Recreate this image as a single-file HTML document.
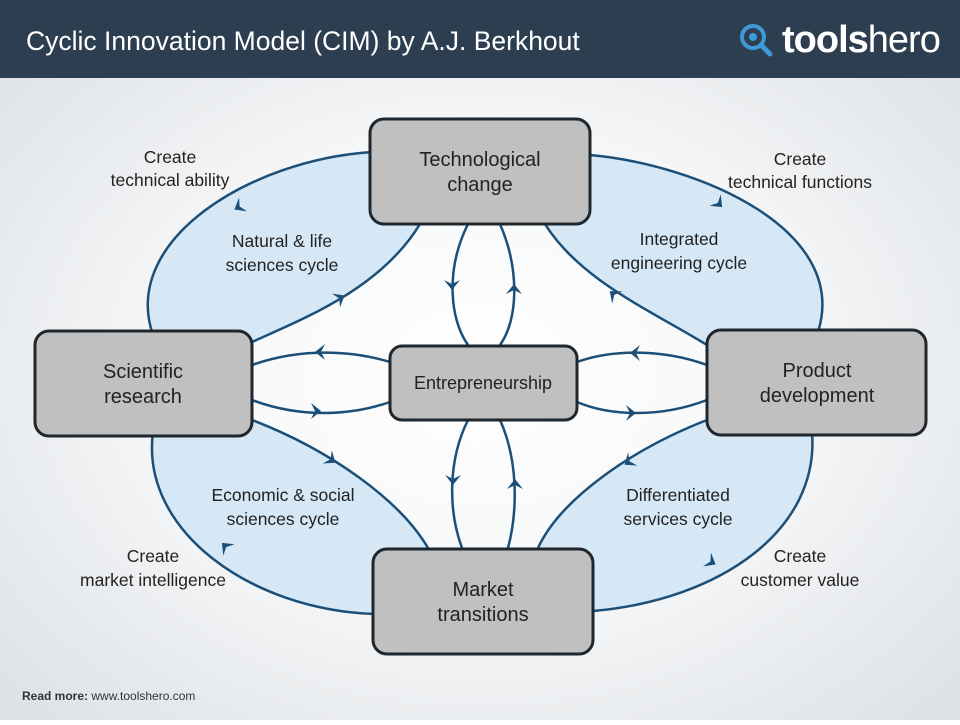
<!DOCTYPE html>
<html><head><meta charset="utf-8"><style>
body{margin:0;width:960px;height:720px;overflow:hidden;font-family:"Liberation Sans",sans-serif}
</style></head><body>
<svg width="960" height="720" viewBox="0 0 960 720" xmlns="http://www.w3.org/2000/svg" font-family="Liberation Sans, sans-serif">
<defs>
<radialGradient id="bg" cx="50%" cy="52%" r="65%">
<stop offset="0" stop-color="#ffffff"/><stop offset="0.5" stop-color="#f6f7f8"/><stop offset="1" stop-color="#dfe3e7"/>
</radialGradient>
</defs>
<rect width="960" height="720" fill="url(#bg)"/>
<rect width="960" height="78" fill="#2c3e50"/>
<text x="26" y="50" fill="#fff" font-size="26.5">Cyclic Innovation Model (CIM) by A.J. Berkhout</text>
<circle cx="753" cy="37" r="11" fill="none" stroke="#3d9ad6" stroke-width="4"/>
<circle cx="753" cy="37" r="4" fill="#3d9ad6"/>
<line x1="761" y1="45" x2="770" y2="54" stroke="#3d9ad6" stroke-width="5" stroke-linecap="round"/>
<text x="782" y="52" fill="#fff" font-size="38" font-weight="bold" letter-spacing="-1">tools<tspan font-weight="normal">hero</tspan></text>

<g fill="#d6e8f6" stroke="none">
<path d="M372,152 C250,160 120,240 153,335 L252,342 C300,320 380,290 420,224 Z"/>
<path d="M590,155 C700,165 850,230 818,332 L707,345 C650,310 580,280 545,224 Z"/>
<path d="M153,432 C140,530 250,610 375,614 L428,548 C400,500 330,450 252,420 Z"/>
<path d="M812,432 C820,530 720,600 593,611 L538,548 C560,500 630,450 707,420 Z"/>
</g>
<g fill="none" stroke="#1b4f78" stroke-width="2.5">
<path d="M372,152 C250,160 120,240 153,335"/>
<path d="M420,224 C380,290 300,320 252,342"/>
<path d="M590,155 C700,165 850,230 818,332"/>
<path d="M545,224 C580,280 650,310 707,345"/>
<path d="M153,432 C140,530 250,610 375,614"/>
<path d="M252,420 C330,450 400,500 428,548"/>
<path d="M812,432 C820,530 720,600 593,611"/>
<path d="M707,420 C630,450 560,500 538,548"/>
<path d="M468,224 C445,270 450,320 468,345"/>
<path d="M500,224 C520,270 518,320 500,345"/>
<path d="M468,420 C448,460 448,510 462,548"/>
<path d="M500,420 C518,460 518,510 508,548"/>
<path d="M252,365 C300,348 350,350 390,362"/>
<path d="M252,400 C300,418 350,416 390,402"/>
<path d="M577,362 C610,350 660,348 707,365"/>
<path d="M577,402 C610,416 660,418 707,400"/>
</g>
<g fill="#1b4f78" stroke="none">
<path id="ah" d="M-8,-7 L0,3 L8,-7 L0,-3 Z" transform="translate(452,287) rotate(0)"/>
<path d="M-8,-7 L0,3 L8,-7 L0,-3 Z" transform="translate(514,287) rotate(180)"/>
<path d="M-8,-7 L0,3 L8,-7 L0,-3 Z" transform="translate(453,482) rotate(0)"/>
<path d="M-8,-7 L0,3 L8,-7 L0,-3 Z" transform="translate(515,482) rotate(180)"/>
<path d="M-8,-7 L0,3 L8,-7 L0,-3 Z" transform="translate(318,352) rotate(90)"/>
<path d="M-8,-7 L0,3 L8,-7 L0,-3 Z" transform="translate(318,411) rotate(-90)"/>
<path d="M-8,-7 L0,3 L8,-7 L0,-3 Z" transform="translate(633,353) rotate(90)"/>
<path d="M-8,-7 L0,3 L8,-7 L0,-3 Z" transform="translate(633,413) rotate(-90)"/>
<path d="M-8,-7 L0,3 L8,-7 L0,-3 Z" transform="translate(237,208) rotate(60)"/>
<path d="M-8,-7 L0,3 L8,-7 L0,-3 Z" transform="translate(342,297) rotate(-120)"/>
<path d="M-8,-7 L0,3 L8,-7 L0,-3 Z" transform="translate(612,293) rotate(130)"/>
<path d="M-8,-7 L0,3 L8,-7 L0,-3 Z" transform="translate(720,205) rotate(-45)"/>
<path d="M-8,-7 L0,3 L8,-7 L0,-3 Z" transform="translate(333,461) rotate(-55)"/>
<path d="M-8,-7 L0,3 L8,-7 L0,-3 Z" transform="translate(627,463) rotate(55)"/>
<path d="M-8,-7 L0,3 L8,-7 L0,-3 Z" transform="translate(224,545) rotate(135)"/>
<path d="M-8,-7 L0,3 L8,-7 L0,-3 Z" transform="translate(713,563) rotate(-60)"/>
</g>
<g fill="#c0c0c0" stroke="#1f272e" stroke-width="3">
<rect x="370" y="119" width="220" height="105" rx="14"/>
<rect x="35" y="331" width="217" height="105" rx="14"/>
<rect x="707" y="330" width="219" height="105" rx="14"/>
<rect x="373" y="549" width="220" height="105" rx="14"/>
<rect x="390" y="346" width="187" height="74" rx="12"/>
</g>
<g fill="#222" font-size="20" text-anchor="middle">
<text x="480" y="166">Technological</text><text x="480" y="191">change</text>
<text x="143" y="378">Scientific</text><text x="143" y="403">research</text>
<text x="817" y="377">Product</text><text x="817" y="402">development</text>
<text x="483" y="596">Market</text><text x="483" y="621">transitions</text>
<text x="483" y="389" font-size="18">Entrepreneurship</text>
</g>
<g fill="#222" font-size="17.5" text-anchor="middle">
<text x="170" y="163">Create</text><text x="170" y="186">technical ability</text>
<text x="800" y="165">Create</text><text x="800" y="188">technical functions</text>
<text x="282" y="247">Natural &amp; life</text><text x="282" y="271">sciences cycle</text>
<text x="679" y="245">Integrated</text><text x="679" y="269">engineering cycle</text>
<text x="283" y="501">Economic &amp; social</text><text x="283" y="525">sciences cycle</text>
<text x="678" y="501">Differentiated</text><text x="678" y="525">services cycle</text>
<text x="153" y="562">Create</text><text x="153" y="586">market intelligence</text>
<text x="800" y="562">Create</text><text x="800" y="586">customer value</text>
</g>
<text x="22" y="700" font-size="12" fill="#333"><tspan font-weight="bold">Read more:</tspan> www.toolshero.com</text>
</svg>
</body></html>
